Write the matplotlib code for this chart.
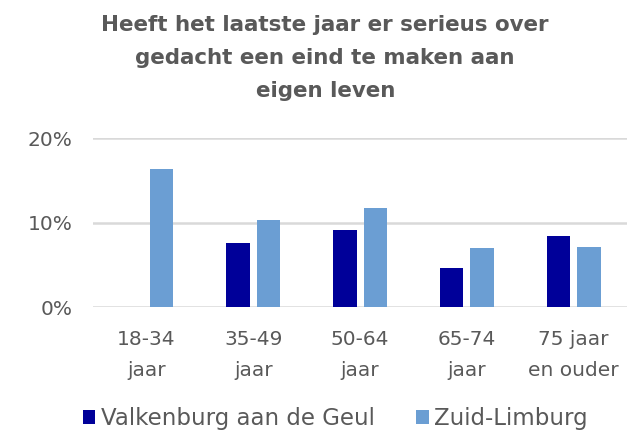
import matplotlib.pyplot as plt
import numpy as np

categories = ["18-34\njaar", "35-49\njaar", "50-64\njaar", "65-74\njaar", "75 jaar\nen ouder"]
valkenburg = [0.0, 7.6, 9.1, 4.6, 8.4]
zuid_limburg = [16.3, 10.3, 11.7, 7.0, 7.1]
series_names = ["Valkenburg aan de Geul", "Zuid-Limburg"]

plt.rcParams['font.family'] = ['DejaVu Sans']
grey = '#595959'

fig = plt.figure(figsize=(6.29, 4.33), dpi=100)
ax = fig.add_axes([0.148, 0.290, 0.849, 0.391])

x = np.arange(len(categories))
w = 0.22
ax.bar(x - 0.1425, valkenburg, w, color='#000099', label=series_names[0])
ax.bar(x + 0.1425, zuid_limburg, w, color='#6b9ed3', label=series_names[1])

ax.set_xlim(-0.5, len(categories) - 0.5)
ax.set_ylim(0, 20)
ax.set_yticks([0, 10, 20])
ax.set_yticklabels(['0%', '10%', '20%'])
ax.set_xticks(x)
ax.set_xticklabels(categories, linespacing=1.8)
ax.tick_params(length=0, labelsize=14.5, colors=grey)
ax.tick_params(axis='y', pad=15)
ax.tick_params(axis='x', pad=16)
ax.yaxis.grid(True, color='#d9d9d9', linewidth=1.8)
ax.set_axisbelow(True)
for s in ax.spines.values():
    s.set_visible(False)

fig.text(0.517, 0.966, "Heeft het laatste jaar er serieus over\ngedacht een eind te maken aan\neigen leven",
         ha='center', va='top', fontsize=15.4, fontweight='bold', color=grey, linespacing=1.82)

fig.legend(loc='center', bbox_to_anchor=(0.533, 0.034), ncol=2, frameon=False,
           fontsize=16.5, labelcolor=grey, handlelength=0.55, handleheight=0.55,
           handletextpad=0.25, columnspacing=1.8, borderpad=0)

fig.savefig('out.png', dpi=100)
